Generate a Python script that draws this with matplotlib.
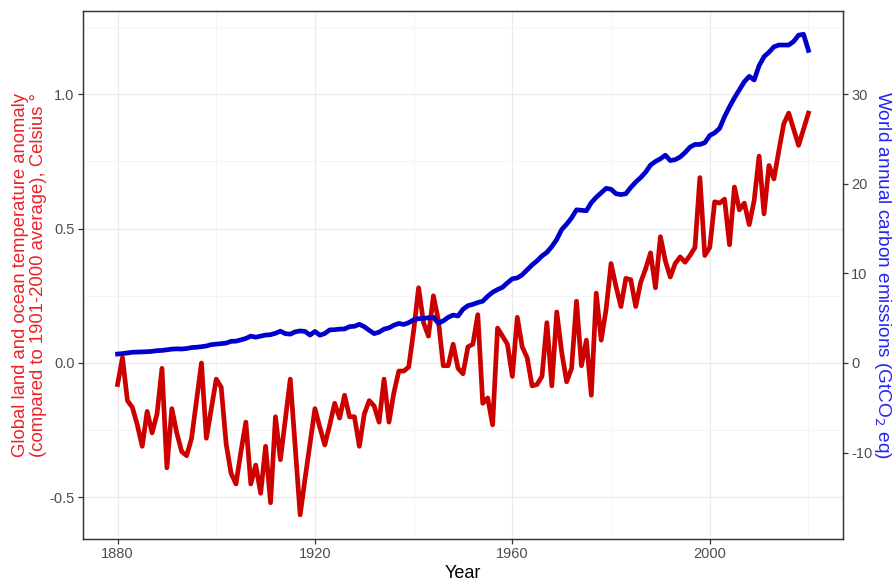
import numpy as np
import matplotlib
matplotlib.use("Agg")
import matplotlib.pyplot as plt
from matplotlib.ticker import FixedLocator

plt.rcParams["font.family"] = ["Liberation Sans", "DejaVu Sans"]
plt.rcParams["axes.unicode_minus"] = False

years = np.arange(1880, 2021)

# Global land and ocean temperature anomaly vs 1901-2000 average (deg C)
temp_anomaly = [
    -0.08, 0.02, -0.14, -0.165, -0.23, -0.31, -0.18, -0.26, -0.19, -0.02,   # 1880s
    -0.39, -0.17, -0.26, -0.33, -0.345, -0.28, -0.14, 0.00, -0.28, -0.17,   # 1890s
    -0.06, -0.09, -0.30, -0.41, -0.45, -0.33, -0.22, -0.45, -0.38, -0.485,  # 1900s
    -0.31, -0.52, -0.20, -0.36, -0.21, -0.06, -0.31, -0.565, -0.43, -0.30,  # 1910s
    -0.17, -0.24, -0.305, -0.23, -0.15, -0.205, -0.12, -0.20, -0.20, -0.31, # 1920s
    -0.19, -0.14, -0.16, -0.22, -0.06, -0.22, -0.11, -0.03, -0.03, -0.015,  # 1930s
    0.12, 0.28, 0.15, 0.10, 0.25, 0.16, -0.01, -0.01, 0.07, -0.02,          # 1940s
    -0.04, 0.06, 0.07, 0.18, -0.15, -0.13, -0.23, 0.13, 0.10, 0.07,         # 1950s
    -0.05, 0.17, 0.06, 0.02, -0.085, -0.08, -0.05, 0.15, -0.085, 0.19,      # 1960s
    0.04, -0.07, -0.02, 0.23, -0.01, 0.085, -0.12, 0.26, 0.085, 0.20,       # 1970s
    0.37, 0.285, 0.21, 0.315, 0.31, 0.21, 0.30, 0.35, 0.41, 0.28,           # 1980s
    0.47, 0.38, 0.32, 0.37, 0.395, 0.375, 0.40, 0.43, 0.69, 0.40,           # 1990s
    0.43, 0.60, 0.595, 0.61, 0.44, 0.655, 0.57, 0.595, 0.515, 0.605,        # 2000s
    0.77, 0.555, 0.735, 0.685, 0.79, 0.89, 0.93, 0.87, 0.81, 0.87,          # 2010s
    0.93,                                                                   # 2020
]

# World annual carbon emissions (GtCO2 eq)
emissions = [
    1.0, 1.05, 1.12, 1.2, 1.22, 1.24, 1.26, 1.3, 1.38, 1.4,
    1.48, 1.55, 1.58, 1.56, 1.62, 1.72, 1.76, 1.82, 1.9, 2.05,
    2.1, 2.16, 2.22, 2.42, 2.44, 2.58, 2.74, 3.0, 2.88, 3.0,
    3.12, 3.16, 3.32, 3.55, 3.28, 3.22, 3.48, 3.58, 3.52, 3.12,
    3.52, 3.1, 3.3, 3.7, 3.72, 3.78, 3.8, 4.06, 4.1, 4.32,
    4.05, 3.65, 3.28, 3.45, 3.78, 3.92, 4.22, 4.42, 4.3, 4.5,
    4.82, 4.95, 4.98, 5.05, 5.1, 4.45, 4.7, 5.1, 5.35, 5.25,
    6.0, 6.4, 6.55, 6.75, 6.9, 7.45, 7.9, 8.2, 8.45, 8.95,
    9.4, 9.5, 9.85, 10.4, 10.95, 11.4, 11.95, 12.35, 13.0, 13.8,
    14.9, 15.5, 16.2, 17.1, 17.05, 17.0, 17.9, 18.5, 19.0, 19.5,
    19.4, 18.9, 18.8, 18.9, 19.6, 20.2, 20.7, 21.3, 22.1, 22.5,
    22.8, 23.2, 22.6, 22.7, 23.0, 23.5, 24.1, 24.4, 24.4, 24.6,
    25.4, 25.7, 26.2, 27.5, 28.6, 29.6, 30.5, 31.4, 32.0, 31.6,
    33.2, 34.2, 34.7, 35.3, 35.5, 35.5, 35.5, 35.9, 36.6, 36.7,
    34.9,
]

scale = 30  # secondary axis: emissions = temperature * 30

x_major = [1880, 1920, 1960, 2000]
x_minor = [1900, 1940, 1980, 2020]
y_major = [-0.5, 0.0, 0.5, 1.0]
y_labels = ["-0.5", "0.0", "0.5", "1.0"]
y_minor = [-0.25, 0.25, 0.75, 1.25]
y2_ticks = [-10, 0, 10, 20, 30]

fig = plt.figure(figsize=(8.93, 5.81), dpi=100)
ax = fig.add_axes([83 / 893, 1 - 539 / 581, 760 / 893, 528 / 581])

ax.set_xlim(1873, 2027)
ax.set_ylim(-0.655, 1.31)

ax.xaxis.set_major_locator(FixedLocator(x_major))
ax.xaxis.set_minor_locator(FixedLocator(x_minor))
ax.yaxis.set_major_locator(FixedLocator(y_major))
ax.yaxis.set_minor_locator(FixedLocator(y_minor))
ax.set_yticklabels(y_labels)

ax.grid(True, which="major", color="#EBEBEB", linewidth=0.9)
ax.grid(True, which="minor", color="#F2F2F2", linewidth=0.5)
ax.set_axisbelow(True)

ax.plot(years, temp_anomaly, color="#CD0000", linewidth=3.4, solid_joinstyle="round", zorder=3)

ax2 = ax.twinx()
ax2.set_ylim(ax.get_ylim()[0] * scale, ax.get_ylim()[1] * scale)
ax2.yaxis.set_major_locator(FixedLocator(y2_ticks))
ax2.plot(years, emissions, color="#0000CD", linewidth=3.4, solid_joinstyle="round", zorder=3)

for a in (ax, ax2):
    for s in a.spines.values():
        s.set_color("#333333")
        s.set_linewidth(0.9)
    a.tick_params(which="major", length=3.5, width=0.9, color="#333333",
                  labelcolor="#4D4D4D", labelsize=10.5, pad=2.5)
    a.tick_params(which="minor", length=0)

ax.set_xlabel("Year", fontsize=13, color="black", labelpad=3)
ax.set_ylabel("Global land and ocean temperature anomaly\n(compared to 1901-2000 average), Celsius °",
              fontsize=13.3, color="#E8242A", linespacing=1.15, ha="center", va="center")
ax.yaxis.set_label_coords((29.5 - 83) / 760, 0.5)
ax2.set_ylabel("World annual carbon emissions (GtCO$_2$ eq)", fontsize=13.7,
               color="#2424F0", rotation=270, ha="center", va="center")
ax2.yaxis.set_label_coords((882 - 83) / 760, 0.5)

fig.savefig("out.png", dpi=100)
